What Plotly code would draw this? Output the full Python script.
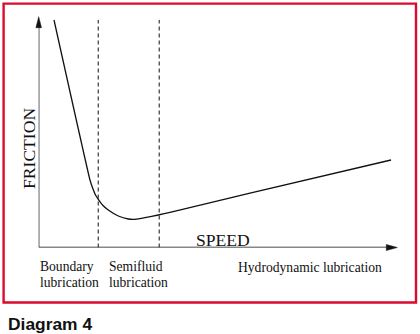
import plotly.graph_objects as go

W, H = 420, 334

# Friction vs. speed (Stribeck-type curve), arbitrary units 0-10 on both axes
speed = [0.427, 1.430, 1.514, 1.584, 1.662, 1.793, 1.941, 2.220, 2.499,
         2.685, 2.964, 3.335, 3.661, 5.892, 9.824]
friction = [9.857, 2.925, 2.535, 2.275, 2.088, 1.820, 1.625, 1.365, 1.235,
            1.222, 1.291, 1.408, 1.525, 2.361, 3.791]

# Speeds separating the lubrication regimes
zone_edges = [1.66, 3.36]
zone_top = 9.86

# Regime labels (one entry per text line) and where each starts on the speed axis
zone_labels = [["Boundary", "lubrication"],
               ["Semifluid", "lubrication"],
               ["Hydrodynamic lubrication"]]
zone_label_x = [0.0, 1.92, 5.52]

x_title = "SPEED"
y_title = "FRICTION"
caption = "Diagram 4"

SERIF = "Liberation Serif, Times New Roman, serif"
SANS = "Liberation Sans, Arial, sans-serif"


def fx(p):
    """page pixel x -> paper fraction"""
    return p / W


def fy(p):
    """page pixel y (from top) -> paper fraction"""
    return 1 - p / H


x_left, x_right = 38.7, 397.3
y_bottom, y_top = 247.5, 16.7

fig = go.Figure()

fig.add_trace(go.Scatter(
    x=speed, y=friction, mode="lines",
    line=dict(color="#111111", width=1.3, shape="spline", smoothing=0.35),
    hoverinfo="skip", showlegend=False,
))

shapes = []
# regime separators
for e in zone_edges:
    shapes.append(dict(type="line", xref="x", yref="y", x0=e, x1=e, y0=0, y1=zone_top,
                       line=dict(color="#111111", width=1, dash="4px,3px")))
# axes
shapes.append(dict(type="line", xref="x", yref="y", x0=0, x1=9.7, y0=0, y1=0,
                   line=dict(color="#111111", width=1.3)))
shapes.append(dict(type="line", xref="x", yref="y", x0=0, x1=0, y0=0, y1=9.6,
                   line=dict(color="#111111", width=1.3)))
# arrowheads
shapes.append(dict(type="path", xref="paper", yref="paper",
                   path=f"M {fx(x_right)} {fy(y_bottom)} L {fx(x_right - 11)} {fy(y_bottom - 3)} "
                        f"L {fx(x_right - 11)} {fy(y_bottom + 3)} Z",
                   fillcolor="#111111", line=dict(color="#111111", width=0.5)))
shapes.append(dict(type="path", xref="paper", yref="paper",
                   path=f"M {fx(x_left)} {fy(y_top)} L {fx(x_left - 2.8)} {fy(y_top + 11)} "
                        f"L {fx(x_left + 2.8)} {fy(y_top + 11)} Z",
                   fillcolor="#111111", line=dict(color="#111111", width=0.5)))
# frame
shapes.append(dict(type="rect", xref="paper", yref="paper",
                   x0=fx(3.6), x1=fx(416), y0=fy(302.5), y1=fy(3.6),
                   line=dict(color="#dc0a2d", width=2.4)))

annotations = []
label_size = 13.6
line_centres = [266.4, 282.4]
for lines, lx in zip(zone_labels, zone_label_x):
    for i, t in enumerate(lines):
        annotations.append(dict(
            text=t, xref="x", yref="paper", x=lx, y=fy(line_centres[i] + (1 if len(lines) == 1 else 0)),
            xanchor="left", yanchor="middle", showarrow=False, xshift=-1,
            font=dict(family=SERIF, size=label_size, color="#111111")))

annotations.append(dict(text=x_title, xref="paper", yref="paper", x=fx(194), y=fy(240),
                        xanchor="left", yanchor="middle", showarrow=False,
                        font=dict(family=SERIF, size=17.6, color="#111111")))
annotations.append(dict(text=y_title, xref="paper", yref="paper", x=fx(29), y=fy(149),
                        xanchor="center", yanchor="middle", showarrow=False, textangle=-90,
                        font=dict(family=SERIF, size=17.6, color="#111111")))
annotations.append(dict(text=f"<b>{caption}</b>", xref="paper", yref="paper", x=fx(5.5), y=fy(323.8),
                        xanchor="left", yanchor="middle", showarrow=False,
                        font=dict(family=SANS, size=17.4, color="#111111")))

fig.update_layout(
    width=W, height=H, margin=dict(l=0, r=0, t=0, b=0),
    paper_bgcolor="white", plot_bgcolor="rgba(0,0,0,0)",
    xaxis=dict(range=[0, 10], domain=[fx(x_left), fx(x_right)], visible=False, fixedrange=True),
    yaxis=dict(range=[0, 10], domain=[fy(y_bottom), fy(y_top)], visible=False, fixedrange=True),
    shapes=shapes, annotations=annotations, showlegend=False,
)

fig.write_html("out.html", config={"displayModeBar": False})
